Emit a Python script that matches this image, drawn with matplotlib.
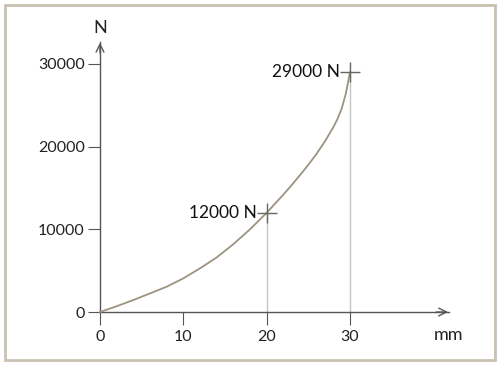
import numpy as np
import matplotlib.pyplot as plt
from matplotlib.patches import Rectangle

# displacement (mm) and force (N)
mm = [0, 2, 4, 6, 8, 10, 12, 14, 16, 18, 20, 21, 22, 23, 24, 25, 26, 27, 28,
      28.5, 29, 29.5, 30]
force = [0, 700, 1450, 2250, 3060, 4070, 5280, 6600, 8200, 10000, 12000, 13100,
         14200, 15350, 16550, 17800, 19150, 20650, 22350, 23350, 24600, 26400, 29000]

# marked points
mark_x = [20, 30]
mark_y = [12000, 29000]
mark_labels = ['12000 N', '29000 N']

xticks = [0, 10, 20, 30]
yticks = [0, 10000, 20000, 30000]

plt.rcParams['font.family'] = ['Lato', 'DejaVu Sans']

fig = plt.figure(figsize=(5, 3.68), dpi=100)
ax = fig.add_axes([0, 0, 1, 1])
ax.set_xlim(-12, 48)
ax.set_ylim(-6770, 37730)

# frame around the chart
fig.patches.append(Rectangle((5 / 500, 8 / 368), 490 / 500, 355 / 368,
                             transform=fig.transFigure, fill=False,
                             edgecolor='#c9c2b2', linewidth=2))

axis_col = '#555555'
for s in ['top', 'right']:
    ax.spines[s].set_visible(False)
ax.spines['left'].set_position(('data', 0))
ax.spines['bottom'].set_position(('data', 0))
ax.spines['left'].set_bounds(0, 32700)
ax.spines['bottom'].set_bounds(0, 41.9)
for s in ['left', 'bottom']:
    ax.spines[s].set_color(axis_col)
    ax.spines[s].set_linewidth(1)

ax.set_xticks(xticks)
ax.set_yticks(yticks)
ax.tick_params(axis='both', direction='out', length=9, width=0.8, color=axis_col,
               labelsize=11.5, labelcolor='#222222')
ax.tick_params(axis='x', pad=4)
ax.tick_params(axis='y', pad=2)

# arrow heads
ax.annotate('', xy=(0, 32900), xytext=(0, 31000),
            arrowprops=dict(arrowstyle='->', color=axis_col, lw=1, mutation_scale=14))
ax.annotate('', xy=(42.1, 0), xytext=(40, 0),
            arrowprops=dict(arrowstyle='->', color=axis_col, lw=1, mutation_scale=14))
ax.text(0, 34300, 'N', ha='center', va='center', fontsize=13, color='#222222')
ax.text(41.8, -2800, 'mm', ha='center', va='center', fontsize=13, color='#222222')

# curve
ax.plot(mm, force, color='#9c9380', lw=1.3, zorder=3)

# guides and markers
for x, y, lab in zip(mark_x, mark_y, mark_labels):
    ax.plot([x, x], [0, y], color='#c4c4c4', lw=1, zorder=1)
    ax.plot(x, y, marker='+', color='#666666', markersize=15, mew=1, zorder=4)
    ax.text(x - 1.2, y, lab, ha='right', va='center', fontsize=12.5,
            color='#111111')

fig.savefig('out.png', dpi=100)
